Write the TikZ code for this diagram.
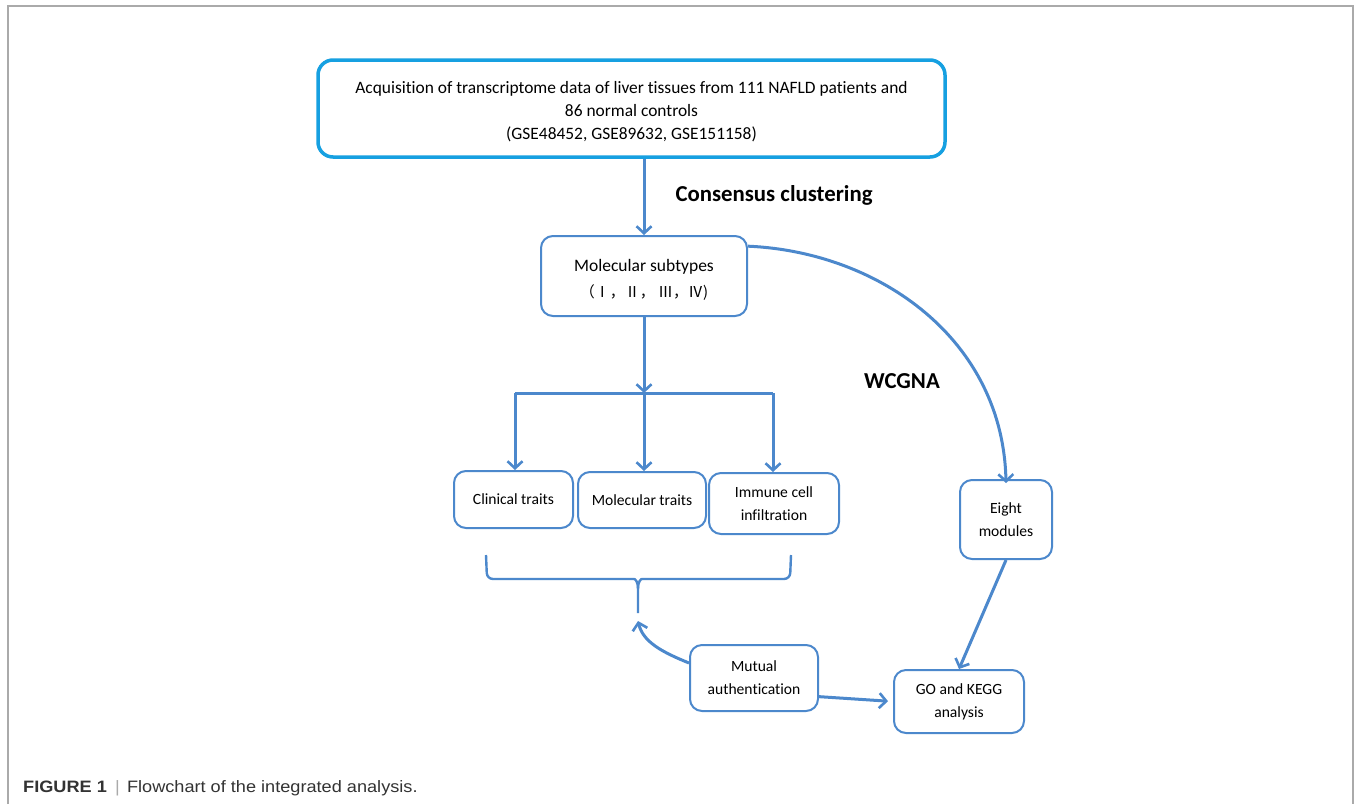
\documentclass[tikz,border=0pt]{standalone}
\usepackage{fontspec}
\setmainfont[Ligatures=NoCommon]{Carlito}
\newfontfamily\cjkf{Noto Sans CJK SC}
\newfontfamily\capf{Liberation Sans}
\usetikzlibrary{arrows.meta}
\definecolor{cyanb}{RGB}{22,160,225}
\definecolor{blu}{RGB}{76,136,204}
\definecolor{framegray}{RGB}{170,170,170}
\definecolor{capgray}{RGB}{51,51,51}
\tikzset{
  box/.style={draw=blu, line width=2pt, rounded corners=12pt, align=center,
    inner sep=0pt, text=black, font=\fontsize{15.6}{23}\selectfont},
  arr/.style={draw=blu, line width=3pt,
    -{Straight Barb[length=7pt,width=15pt,line width=2.6pt]}},
  lbl/.style={font=\bfseries\fontsize{22.8}{26}\selectfont, text=black}
}
\begin{document}
\begin{tikzpicture}[x=1pt,y=-1pt]
\useasboundingbox (0,0) rectangle (1356,804);
\fill[white] (0,0) rectangle (1356,804);
% frame
\draw[framegray, line width=1.3pt] (8,804) -- (8,6) -- (1353,6) -- (1353,804);

% nodes
\node[box, draw=cyanb, line width=3.5pt, rounded corners=15pt,
  minimum width=627pt, minimum height=97pt, font=\fontsize{17.4}{23}\selectfont] (top) at (631.5,108.5)
  {\rule{0pt}{18pt}Acquisition of transcriptome data of liver tissues from 111 NAFLD patients and\\
   86 normal controls\\ (GSE48452, GSE89632, GSE151158)};
\node[box, minimum width=206pt, minimum height=80pt,
  font=\fontsize{17.5}{26}\selectfont] (mol) at (644,276)
  {\rule{0pt}{20pt}Molecular subtypes\\ {\cjkf\fontsize{15}{26}\selectfont （Ⅰ，Ⅱ， Ⅲ，Ⅳ)}};
\node[box, minimum width=119pt, minimum height=57pt] (cl) at (513.5,499.5) {Clinical traits};
\node[box, minimum width=128pt, minimum height=56pt] (mt) at (642,500) {Molecular traits};
\node[box, minimum width=130pt, minimum height=61pt] (im) at (774,503.5) {Immune cell\\ infiltration};
\node[box, minimum width=92pt, minimum height=79pt] (eight) at (1006,519.5) {Eight\\ modules};
\node[box, minimum width=128pt, minimum height=66pt] (mut) at (754,678) {Mutual\\ authentication};
\node[box, minimum width=130pt, minimum height=63pt] (go) at (959,701.5) {GO and KEGG\\ analysis};

% labels
\node[lbl] (cc) at (774,195) {Consensus clustering};
\node[lbl] (wc) at (902,381) {WCGNA};

% coordinates
\coordinate (j) at (644,393);
\coordinate (jl) at (515,393);
\coordinate (jr) at (773,393);
\coordinate (bt) at (638,621);

% connectors
\draw[arr] (top.south -| mol.north) -- (mol.north);
\draw[arr] (mol.south) -- (j);
\draw[blu, line width=3pt] (jl) -- (jr);
\draw[arr] (jl) -- (jl |- cl.north);
\draw[arr] (j) -- (j |- mt.north);
\draw[arr] (jr) -- (jr |- im.north);
\draw[arr] (mol.16) .. controls (880,252) and (1003,340) .. ([yshift=-4pt]eight.north);
\draw[arr] (eight.south) -- (go.north);
\draw[arr, shorten >=5pt] (mut.-16.5) -- (go.west);
\draw[arr] (mut.167) .. controls (662,652) and (643,642) .. (bt);

% brace
\draw[blu, line width=2.4pt] (486,555) [rounded corners=6pt] -- (487,579) -- (628,579)
  [sharp corners] .. controls (635,579) and (638,581) .. (638,589) -- (638,613);
\draw[blu, line width=2.4pt] (791,555) [rounded corners=6pt] -- (790,579) -- (648,579)
  [sharp corners] .. controls (641,579) and (638,581) .. (638,589);

% caption
\node[anchor=base west, inner sep=0pt, text=capgray,
  font=\capf\fontsize{16.5}{18}\selectfont] (cap) at (23,792)
  {\scalebox{1.1}[1]{\textbf{FIGURE 1}\hspace{0.45em}{\color{framegray}|}\hspace{0.4em}Flowchart of the integrated analysis.}};
\end{tikzpicture}
\end{document}
